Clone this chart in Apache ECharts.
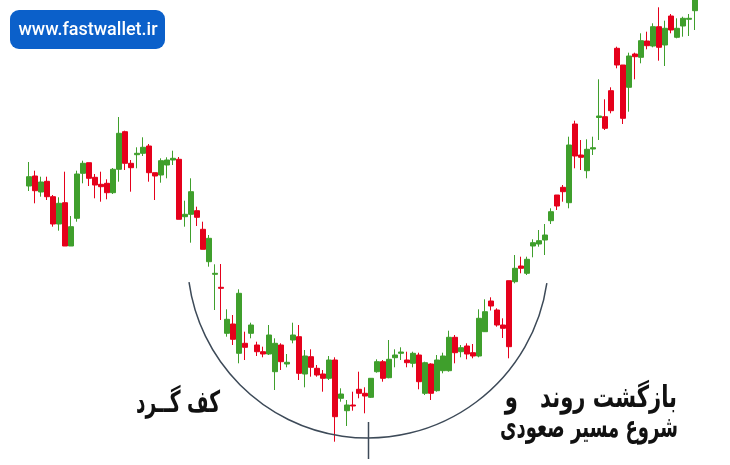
<!DOCTYPE html>
<html>
<head>
<meta charset="utf-8">
<script src="https://cdn.jsdelivr.net/npm/echarts@6/dist/echarts.min.js"></script>
<style>
html,body{margin:0;padding:0;background:#fff;}
#chart{width:730px;height:465px;}
</style>
</head>
<body>
<div id="chart"></div>
<script>
// Candle values (arbitrary price units)
const openVals = [279,289,273,283.7,268.3,241,262.3,219,246.7,291.7,302.3,287.7,280.7,281.7,272.3,295.7,333.3,301.7,310.3,311.7,
319,292.3,290,300,305,305.7,248.3,250.7,254.3,235.7,203.3,190.7,177.7,131.7,141,111.7,121.7,131.7,120,113.3,
111,93.3,120,101,125,128.3,91,108.3,96.7,91,86.7,105,66.7,54.3,60,75.7,71.7,67.7,93.3,103.3,
87.3,107.3,111.7,105,101.7,110,71.7,101,74.3,94.3,94.3,127.7,113.3,119,112.3,109,133.3,164,155,140,
184.3,183.3,199,191.7,219,221,225,244.3,270,277.7,262.3,341,310,294.3,316,347.5,348.3,374.3,416.7,400,
377.7,411,407.7,424,419,438.3,420,449,427.7,439,445.7,454.3];
const closeVals = [288.3,274.3,283,268.3,241,261.7,219,238.3,291,301.7,286.7,280,278.3,272.3,295.7,331.7,301.7,297.3,311.7,317.7,
292.3,289,304.3,305,306.7,245.7,250.7,273.3,247.7,215.7,226.7,191.7,176.7,145.7,125.7,171.7,117.7,140,113.3,111,
130,121.7,103.3,102.7,130,91.7,109,97.7,90,86.7,105,48.3,71,60,59,71.7,69,86.7,103.3,86.7,
105.7,110,113,102.3,111.7,83.3,102.3,71.7,105,109,127.7,112.3,117.3,111,109,146.7,153.3,159,140,136.7,
118.3,196.7,196.7,205.7,222.3,224.3,230,253.3,259,273.3,320,309,307.7,315.7,317.3,349,336.7,354.3,400,346.7,
409,408.3,424.3,419.3,438.3,417.7,436.7,435,436.7,446.7,446.7,470];
const lowVals = [274,261.7,268.3,265,238.3,234.3,219,219,243.3,281.7,279,266.7,263.3,265.7,271,283.3,295,273.3,296.7,309,
283.3,265,282.3,286.7,300,245.7,238.3,222.3,239,215.7,198.3,155,145,128.3,120,101.7,105,126.7,109,107.7,
110,75,95,97.7,121.7,85,77.7,88.3,88.3,73.3,85,23.3,63.3,39,54.3,66.7,51.7,67,92.3,83.3,
86.7,97.7,105,97.7,97.7,75.7,70,65,73.3,91.7,93.3,101.7,107.7,105.7,106.7,107.7,133,154.5,138.3,127,
106.7,181.7,191.7,190,207.7,218.3,210,241,255,263.3,256.7,296.7,295,286.7,310,325,335,351.7,396.7,341,
353.3,385.7,401.7,415.7,417.7,404.3,399,431.7,426.7,428.3,429,435];
const highVals = [303,294.3,288.3,288.3,270,267.7,293.3,249,294.3,304.3,302.3,291,293.3,285.7,297,348,334.3,305,317.7,327.7,
321,292.3,306.7,307.7,314.3,308,264.3,286.7,258.3,243.3,230,200.7,201,155.7,150,175.7,133.3,142.3,123.3,118.3,
140,126.7,121.7,111,142.3,140,115,115.7,100,95,109,107.7,76.7,65,73.3,93.3,77.7,87,105.7,105,
125,115.7,117.7,113.3,113.3,112.3,103.3,101.7,110,112.3,134.3,130,120,121.7,121,155.7,165.7,167.7,156.7,146.7,
184.3,210,208.3,208.3,225.7,235,241,256.7,270,280,328.3,344.3,325,325.7,328.3,385.7,365.7,377.7,418.3,400,
412.3,412.3,431.7,433.3,441.7,457.7,444.3,451,446.7,448.3,451,475];
const categories = openVals.map((_, i) => 'D' + (i + 1));

const watermarkText = 'www.fastwallet.ir';
const leftLabel = 'کف گــرد';
const rightLabel1a = 'بازگشت روند';
const rightLabel1b = 'و';
const rightLabel2 = 'شروع مسیر صعودی';

const candleData = openVals.map((o, i) => [o, closeVals[i], lowVals[i], highVals[i]]);

const UP = '#3f9f2c', DOWN = '#e5001b', ARC = '#3d4a58';
const LABEL_FONT = 'bold 30px "DejaVu Sans"';

const mctx = document.createElement('canvas').getContext('2d');
function fitScale(text, font, target) {
  mctx.font = font;
  const w = mctx.measureText(text).width;
  return w > 0 ? target / w : 1;
}
function label(text, x, y, scale) {
  return {
    type: 'text', x: x, y: y, originX: 0, originY: 0,
    scaleX: scale,
    style: {text: text, fill: '#111', font: LABEL_FONT, textAlign: 'right', textVerticalAlign: 'middle'},
    z: 6
  };
}
const s1 = fitScale(rightLabel1a, LABEL_FONT, 137);

const chart = echarts.init(document.getElementById('chart'), null, {renderer: 'canvas'});
chart.setOption({
  animation: false,
  backgroundColor: '#ffffff',
  grid: {left: 26, right: 32, top: 0, bottom: 0},
  xAxis: {type: 'category', data: categories, show: false, boundaryGap: true},
  yAxis: {type: 'value', min: 0, max: 465, show: false},
  series: [{
    type: 'candlestick',
    data: candleData,
    barWidth: 5,
    clip: true,
    itemStyle: {color: UP, color0: DOWN, borderColor: UP, borderColor0: DOWN, borderWidth: 1}
  }],
  graphic: [
    {type: 'rect', left: 10, top: 10, shape: {width: 155, height: 39, r: 9}, style: {fill: '#0b60ca'}, z: 10},
    {type: 'text', x: 88, y: 30, style: {text: watermarkText, fill: '#ffffff', font: '500 18px Roboto', textAlign: 'center', textVerticalAlign: 'middle'}, z: 11},
    {type: 'arc', shape: {cx: 368, cy: 257.3, r: 180.7, startAngle: 8.2 * Math.PI / 180, endAngle: 172.1 * Math.PI / 180, clockwise: true}, style: {stroke: ARC, lineWidth: 1.5, fill: null}, z: 5},
    {type: 'line', shape: {x1: 368.5, y1: 422, x2: 368.5, y2: 459}, style: {stroke: ARC, lineWidth: 1.5}, z: 5},
    label(leftLabel, 220, 404, fitScale(leftLabel, LABEL_FONT, 84)),
    label(rightLabel1a, 677, 399, s1),
    label(rightLabel1b, 518, 399, s1),
    label(rightLabel2, 678, 429, fitScale(rightLabel2, LABEL_FONT, 178))
  ]
});
</script>
</body>
</html>
